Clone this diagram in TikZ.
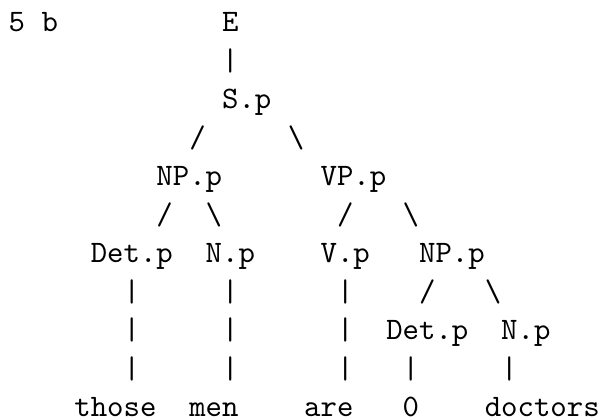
\documentclass[tikz,border=0pt]{standalone}
\usepackage{tikz}

\begin{document}
\begin{tikzpicture}[
			x=5.25pt, y=-12.3pt,
			tok/.style={anchor=base west, inner sep=0pt, outer sep=0pt, font=\ttfamily},
			bar/.style={tok}
			]
			\useasboundingbox (-0.533,-0.83) rectangle (36.02,10.04);
			
			% Etichetta e radice
			\node[tok] (tag) at (0,0) {5 b};
			\node[tok] (E) at (13,0) {E};
			\node[bar] (eS) at (13,1) {|};
			\node[tok] (Sp) at (13,2) {S.p};
			\node[bar] (sNP) at (11,3) {/};
			\node[bar] (sVP) at (17,3) {\textbackslash};
			
			% Sintagmi
			\node[tok] (NPp) at (9,4) {NP.p};
			\node[tok] (VPp) at (19,4) {VP.p};
			\node[bar] (npDet) at (9,5) {/};
			\node[bar] (npN) at (12,5) {\textbackslash};
			\node[bar] (vpV) at (20,5) {/};
			\node[bar] (vpNP) at (24,5) {\textbackslash};
			
			\node[tok] (Detp) at (5,6) {Det.p};
			\node[tok] (Np) at (12,6) {N.p};
			\node[tok] (Vp) at (19,6) {V.p};
			\node[tok] (NPp2) at (25,6) {NP.p};
			\node[bar] (npDet2) at (25,7) {/};
			\node[bar] (npN2) at (29,7) {\textbackslash};
			\node[tok] (Detp2) at (23,8) {Det.p};
			\node[tok] (Np2) at (30,8) {N.p};
			
			% Rami verticali
			\foreach \c/\r in {7/7, 13/7, 20/7, 7/8, 13/8, 20/8, 7/9, 13/9, 20/9, 24/9, 30/9}
				\node[bar] (v-\c-\r) at (\c,\r) {|};
			
			% Parole
			\node[tok] (those) at (4,10) {those};
			\node[tok] (men) at (11,10) {men};
			\node[tok] (are) at (18,10) {are};
			\node[tok] (zero) at (24,10) {0};
			\node[tok] (doctors) at (29,10) {doctors};
		\end{tikzpicture}
\end{document}
